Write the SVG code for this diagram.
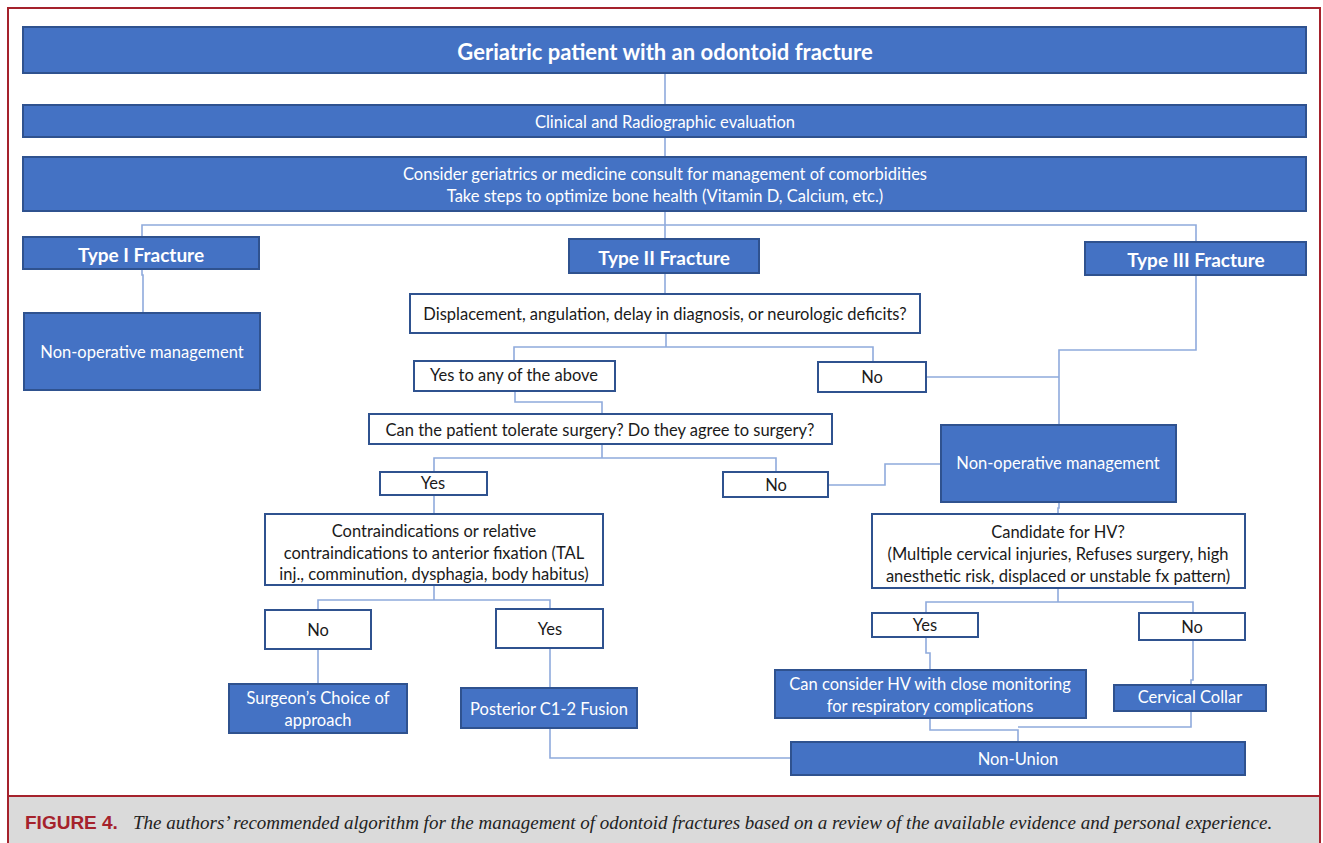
<svg xmlns="http://www.w3.org/2000/svg" width="1323" height="843" viewBox="0 0 1323 843">
<style>
.b{fill:#4472C4;stroke:#2F528F;stroke-width:2}
.w{fill:#fff;stroke:#2F528F;stroke-width:2}
.c{fill:none;stroke:#8FAADC;stroke-width:1.6}
text{font-family:Lato,"Open Sans",sans-serif;text-anchor:middle;dominant-baseline:central}
.tw{fill:#fff;font-size:16.5px}
.tk{fill:#1a1a1a;font-size:16.5px}
.tb{fill:#fff;font-size:19px;font-weight:bold}
</style>
<rect x="0" y="0" width="1323" height="843" fill="#fff"/>
<rect x="7" y="797" width="1313" height="50" fill="#DADADA"/>
<path d="M8 850V8H1320V850M8 796H1320" fill="none" stroke="#A5222C" stroke-width="2"/>
<g id="connectors">
<path class="c" d="M665 73V105M665 137V157"/>
<path class="c" d="M665 211V239M142 237V225H1196V242"/>
<path class="c" d="M142 269V275H143V313"/>
<path class="c" d="M665 273V294"/>
<path class="c" d="M666 333V347M514 361V347H873V362"/>
<path class="c" d="M926 377H1059M1196 275V350H1059V425"/>
<path class="c" d="M515 391V402H602V414"/>
<path class="c" d="M602 444V458M434 472V458H776V472"/>
<path class="c" d="M828 485H885V464H941"/>
<path class="c" d="M434 495V514"/>
<path class="c" d="M434 585V600M318 610V600H550V609"/>
<path class="c" d="M318 649V684"/>
<path class="c" d="M550 648V688"/>
<path class="c" d="M550 728V758H791"/>
<path class="c" d="M1059 502V508H1058V514"/>
<path class="c" d="M1058 588V602M926 613V602H1193V613"/>
<path class="c" d="M926 637V653H930V670"/>
<path class="c" d="M1193 640V680H1191V685"/>
<path class="c" d="M930 718V730H1018V742M1191 711V727H1018"/>
</g>
<g id="title"><rect class="b" x="23" y="27" width="1283" height="46"/><text class="tb" x="665" y="51" style="font-size:22px">Geriatric patient with an odontoid fracture</text></g>
<g id="eval"><rect class="b" x="23" y="105" width="1283" height="32"/><text class="tw" x="665" y="122">Clinical and Radiographic evaluation</text></g>
<g id="consult"><rect class="b" x="23" y="157" width="1283" height="54"/><text class="tw" x="665" y="174">Consider geriatrics or medicine consult for management of comorbidities</text><text class="tw" x="665" y="196">Take steps to optimize bone health (Vitamin D, Calcium, etc.)</text></g>
<g id="type1"><rect class="b" x="23" y="237" width="236" height="32"/><text class="tb" x="141" y="254">Type I Fracture</text></g>
<g id="nonop1"><rect class="b" x="24" y="313" width="236" height="77"/><text class="tw" x="142" y="352">Non-operative management</text></g>
<g id="type2"><rect class="b" x="569" y="239" width="190" height="34"/><text class="tb" x="664" y="257">Type II Fracture</text></g>
<g id="type3"><rect class="b" x="1085" y="242" width="221" height="33"/><text class="tb" x="1196" y="259">Type III Fracture</text></g>
<g id="displacement"><rect class="w" x="410" y="294" width="510" height="39"/><text class="tk" x="665" y="314">Displacement, angulation, delay in diagnosis, or neurologic deficits?</text></g>
<g id="yesany"><rect class="w" x="414" y="361" width="201" height="30"/><text class="tk" x="514" y="375">Yes to any of the above</text></g>
<g id="no1"><rect class="w" x="818" y="362" width="108" height="30"/><text class="tk" x="872" y="377">No</text></g>
<g id="tolerate"><rect class="w" x="369" y="414" width="463" height="30"/><text class="tk" x="600" y="430">Can the patient tolerate surgery? Do they agree to surgery?</text></g>
<g id="yes2"><rect class="w" x="380" y="472" width="107" height="23"/><text class="tk" x="433" y="483">Yes</text></g>
<g id="no2"><rect class="w" x="723" y="472" width="105" height="25"/><text class="tk" x="776" y="485">No</text></g>
<g id="nonop3"><rect class="b" x="941" y="425" width="235" height="77"/><text class="tw" x="1058" y="463">Non-operative management</text></g>
<g id="contra"><rect class="w" x="265" y="514" width="338" height="71"/><text class="tk" x="434" y="531">Contraindications or relative</text><text class="tk" x="434" y="553">contraindications to anterior fixation (TAL</text><text class="tk" x="434" y="574">inj., comminution, dysphagia, body habitus)</text></g>
<g id="no3"><rect class="w" x="265" y="610" width="106" height="39"/><text class="tk" x="318" y="630">No</text></g>
<g id="yes3"><rect class="w" x="496" y="609" width="107" height="39"/><text class="tk" x="550" y="629">Yes</text></g>
<g id="surgeon"><rect class="b" x="229" y="684" width="178" height="49"/><text class="tw" x="318" y="698">Surgeon’s Choice of</text><text class="tw" x="318" y="720">approach</text></g>
<g id="posterior"><rect class="b" x="461" y="688" width="176" height="40"/><text class="tw" x="549" y="709">Posterior C1-2 Fusion</text></g>
<g id="candidate"><rect class="w" x="872" y="514" width="373" height="74"/><text class="tk" x="1058" y="532">Candidate for HV?</text><text class="tk" x="1058" y="554">(Multiple cervical injuries, Refuses surgery, high</text><text class="tk" x="1058" y="576">anesthetic risk, displaced or unstable fx pattern)</text></g>
<g id="yes4"><rect class="w" x="872" y="613" width="106" height="24"/><text class="tk" x="925" y="625">Yes</text></g>
<g id="no4"><rect class="w" x="1139" y="613" width="106" height="27"/><text class="tk" x="1192" y="627">No</text></g>
<g id="hv"><rect class="b" x="775" y="670" width="311" height="48"/><text class="tw" x="930" y="684">Can consider HV with close monitoring</text><text class="tw" x="930" y="706">for respiratory complications</text></g>
<g id="collar"><rect class="b" x="1114" y="685" width="152" height="26"/><text class="tw" x="1190" y="697">Cervical Collar</text></g>
<g id="nonunion"><rect class="b" x="791" y="742" width="454" height="33"/><text class="tw" x="1018" y="759">Non-Union</text></g>
<g id="caption">
<text x="25" y="822" style="text-anchor:start;font-family:'Liberation Sans Narrow','Liberation Sans',sans-serif;font-weight:bold;font-size:19px;fill:#A5222C">FIGURE 4.</text>
<text x="133" y="822" style="text-anchor:start;font-family:'Liberation Serif',serif;font-style:italic;font-size:19px;fill:#222">The authors’ recommended algorithm for the management of odontoid fractures based on a review of the available evidence and personal experience.</text>
</g>
</svg>
